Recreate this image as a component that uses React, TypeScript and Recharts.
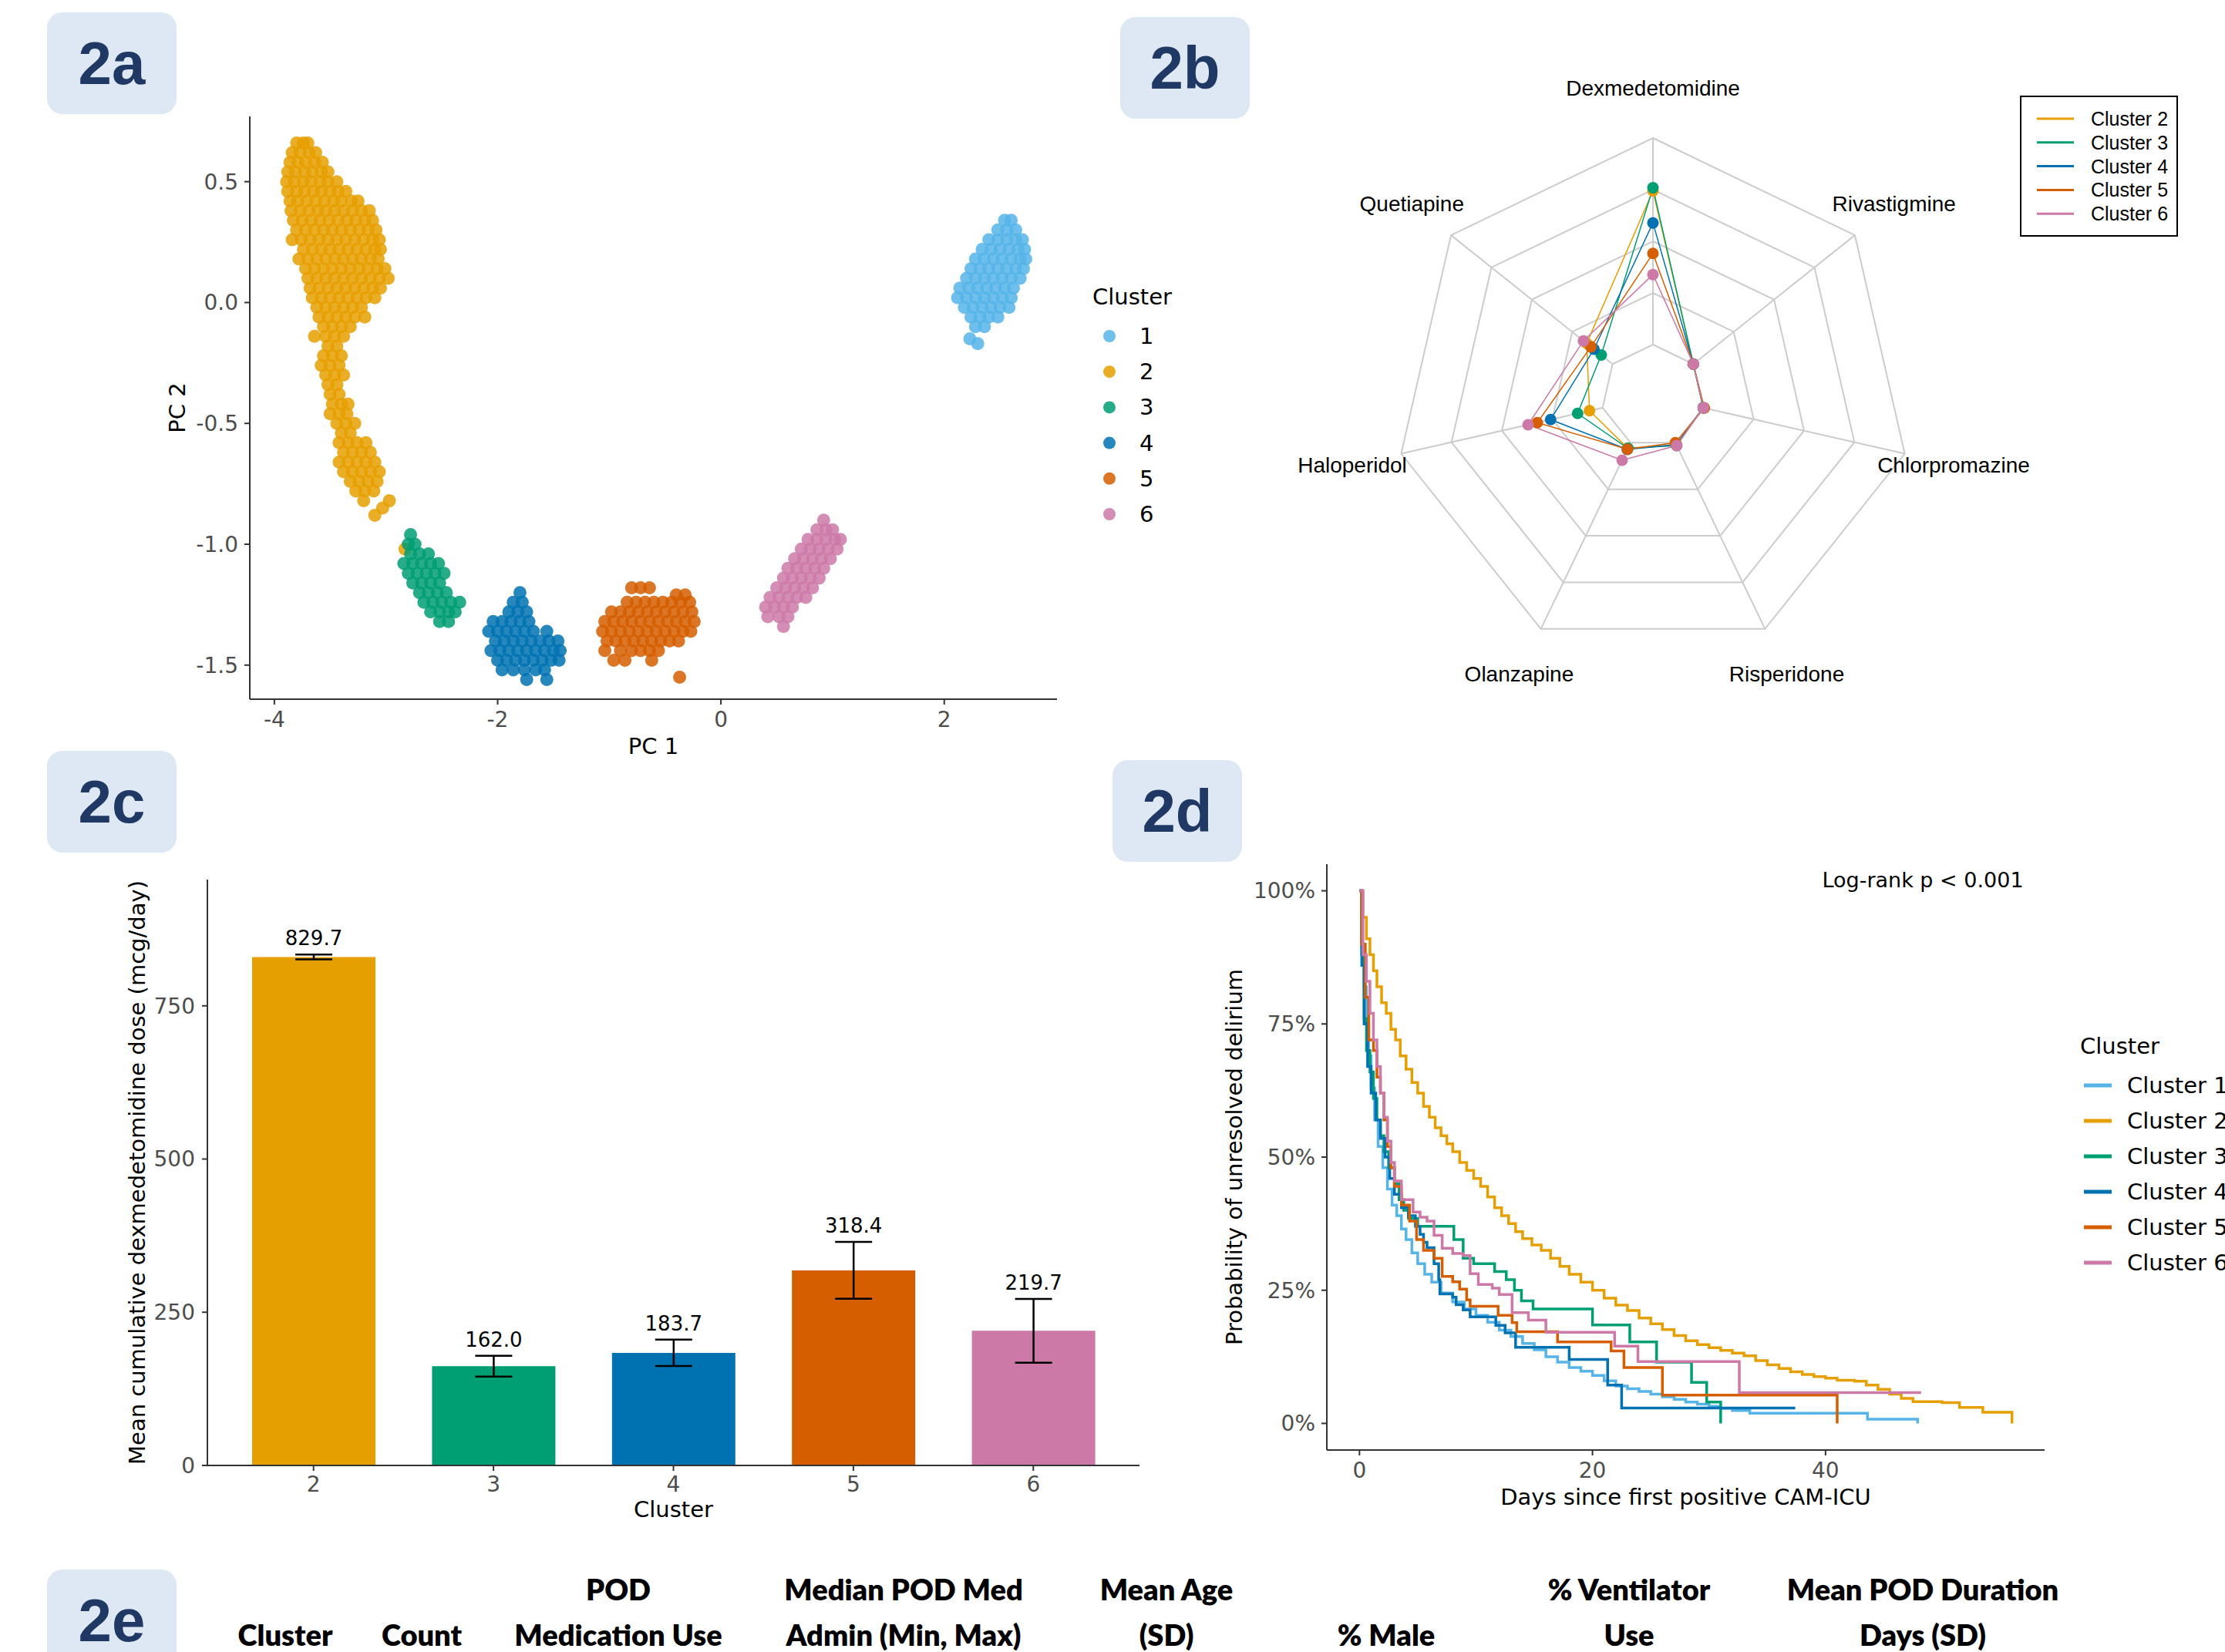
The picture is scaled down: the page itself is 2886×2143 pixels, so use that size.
import React from 'react';
import {
  ScatterChart, Scatter, XAxis, YAxis, Legend,
  RadarChart, Radar, PolarGrid, PolarAngleAxis, PolarRadiusAxis,
  BarChart, Bar, Cell, ErrorBar, LabelList,
  LineChart, Line,
} from 'recharts';

const GG = 'DejaVu Sans';
const ARIAL = 'Liberation Sans';
const TICK_COLOR = '#4D4D4D';
const AXIS_COLOR = '#333333';

// ---------- shared cluster palette ----------
const clusterNames = ['1', '2', '3', '4', '5', '6'];
const clusterColors = ['#56B4E9', '#E69F00', '#009E73', '#0072B2', '#D55E00', '#CC79A7'];

// ---------- 2a: PCA scatter (rows: [PC2, PC1 values]) ----------
const pcaCluster1Rows: [number, number[]][] = [
  [0.34, [2.54, 2.6]], [0.3, [2.48, 2.56, 2.64]], [0.26, [2.4, 2.48, 2.56, 2.64, 2.7]],
  [0.22, [2.34, 2.42, 2.5, 2.58, 2.66, 2.72]], [0.18, [2.28, 2.36, 2.44, 2.52, 2.6, 2.68, 2.73]],
  [0.14, [2.24, 2.32, 2.4, 2.48, 2.56, 2.64, 2.71]], [0.1, [2.2, 2.28, 2.36, 2.44, 2.52, 2.6, 2.68]],
  [0.06, [2.14, 2.22, 2.3, 2.38, 2.46, 2.54, 2.62]], [0.02, [2.12, 2.2, 2.28, 2.36, 2.44, 2.52, 2.6]],
  [-0.02, [2.18, 2.26, 2.34, 2.42, 2.5, 2.58]], [-0.06, [2.24, 2.32, 2.4, 2.48]],
  [-0.1, [2.28, 2.36]], [-0.15, [2.23]], [-0.17, [2.3]],
];
const pcaCluster2Rows: [number, number[]][] = [
  [0.66, [-3.8, -3.74, -3.7]], [0.62, [-3.84, -3.77, -3.69, -3.63]],
  [0.58, [-3.86, -3.79, -3.72, -3.64, -3.57]], [0.54, [-3.88, -3.81, -3.73, -3.66, -3.58, -3.52]],
  [0.5, [-3.89, -3.82, -3.74, -3.67, -3.59, -3.52, -3.44]],
  [0.46, [-3.88, -3.8, -3.73, -3.65, -3.58, -3.5, -3.43, -3.36]],
  [0.42, [-3.86, -3.79, -3.71, -3.63, -3.55, -3.47, -3.4, -3.31, -3.25]],
  [0.38, [-3.85, -3.77, -3.69, -3.61, -3.54, -3.46, -3.38, -3.3, -3.22, -3.15]],
  [0.34, [-3.83, -3.75, -3.67, -3.59, -3.51, -3.43, -3.35, -3.27, -3.19, -3.12]],
  [0.3, [-3.8, -3.72, -3.64, -3.56, -3.48, -3.4, -3.32, -3.24, -3.16, -3.09]],
  [0.26, [-3.84, -3.76, -3.68, -3.6, -3.52, -3.44, -3.36, -3.28, -3.2, -3.12, -3.06]],
  [0.22, [-3.74, -3.66, -3.58, -3.5, -3.42, -3.34, -3.26, -3.18, -3.1, -3.05]],
  [0.18, [-3.78, -3.7, -3.62, -3.54, -3.46, -3.38, -3.3, -3.22, -3.14, -3.07]],
  [0.14, [-3.72, -3.64, -3.56, -3.48, -3.4, -3.32, -3.24, -3.16, -3.08, -3.01]],
  [0.1, [-3.7, -3.62, -3.54, -3.46, -3.38, -3.3, -3.22, -3.14, -3.06, -2.98]],
  [0.06, [-3.68, -3.6, -3.52, -3.44, -3.36, -3.28, -3.2, -3.12, -3.05]],
  [0.02, [-3.66, -3.58, -3.5, -3.42, -3.34, -3.26, -3.18, -3.1]],
  [-0.02, [-3.62, -3.54, -3.46, -3.38, -3.3, -3.22]],
  [-0.06, [-3.6, -3.52, -3.44, -3.36, -3.28, -3.19]],
  [-0.1, [-3.56, -3.48, -3.4, -3.32]], [-0.14, [-3.64, -3.54, -3.46, -3.38]],
  [-0.18, [-3.52, -3.44]], [-0.22, [-3.56, -3.48, -3.4]], [-0.26, [-3.58, -3.5, -3.42]],
  [-0.3, [-3.54, -3.46, -3.38]], [-0.34, [-3.52, -3.44]], [-0.38, [-3.5, -3.42]],
  [-0.42, [-3.48, -3.4, -3.34]], [-0.46, [-3.5, -3.42, -3.35]], [-0.5, [-3.44, -3.36, -3.28]],
  [-0.54, [-3.4, -3.32]], [-0.58, [-3.42, -3.34, -3.26, -3.18]], [-0.62, [-3.38, -3.3, -3.22, -3.14]],
  [-0.66, [-3.42, -3.34, -3.26, -3.18, -3.1]], [-0.7, [-3.38, -3.3, -3.22, -3.14, -3.06]],
  [-0.74, [-3.32, -3.24, -3.16, -3.08]], [-0.78, [-3.27, -3.19, -3.11]],
  [-0.82, [-3.2, -2.97]], [-0.85, [-3.03]], [-0.88, [-3.1]], [-1.02, [-2.83]],
];
const pcaCluster3Rows: [number, number[]][] = [
  [-0.96, [-2.78]], [-1.0, [-2.8, -2.74]], [-1.04, [-2.78, -2.7, -2.62]],
  [-1.08, [-2.84, -2.76, -2.68, -2.6, -2.53]], [-1.12, [-2.8, -2.72, -2.64, -2.56, -2.48]],
  [-1.16, [-2.76, -2.68, -2.6, -2.52]], [-1.2, [-2.7, -2.62, -2.54, -2.46]],
  [-1.24, [-2.66, -2.58, -2.5, -2.42, -2.34]], [-1.28, [-2.6, -2.52, -2.44, -2.38]],
  [-1.32, [-2.52, -2.44]],
];
const pcaCluster4Rows: [number, number[]][] = [
  [-1.2, [-1.8]], [-1.24, [-1.86, -1.78]], [-1.28, [-1.9, -1.82, -1.74]],
  [-1.32, [-2.04, -1.96, -1.88, -1.8, -1.72]],
  [-1.36, [-2.08, -2.0, -1.92, -1.84, -1.76, -1.68, -1.56]],
  [-1.4, [-2.02, -1.94, -1.86, -1.78, -1.7, -1.62, -1.54, -1.46]],
  [-1.44, [-2.06, -1.98, -1.9, -1.82, -1.74, -1.66, -1.58, -1.5, -1.44]],
  [-1.48, [-2.0, -1.92, -1.84, -1.76, -1.68, -1.6, -1.52, -1.45]],
  [-1.52, [-1.96, -1.86, -1.76, -1.66, -1.58]], [-1.56, [-1.74, -1.56]],
];
const pcaCluster5Rows: [number, number[]][] = [
  [-1.18, [-0.8, -0.72, -0.64]], [-1.21, [-0.4, -0.32]],
  [-1.24, [-0.84, -0.76, -0.68, -0.6, -0.52, -0.44, -0.36, -0.28]],
  [-1.28, [-0.98, -0.9, -0.82, -0.74, -0.66, -0.58, -0.5, -0.42, -0.34, -0.26]],
  [-1.32, [-1.04, -0.96, -0.88, -0.8, -0.72, -0.64, -0.56, -0.48, -0.4, -0.32, -0.24]],
  [-1.36, [-1.06, -0.98, -0.9, -0.82, -0.74, -0.66, -0.58, -0.5, -0.42, -0.34, -0.27]],
  [-1.4, [-1.02, -0.94, -0.86, -0.78, -0.7, -0.62, -0.54, -0.46, -0.38]],
  [-1.44, [-1.04, -0.9, -0.8, -0.72, -0.64, -0.56]], [-1.48, [-0.96, -0.86, -0.62]],
  [-1.55, [-0.37]],
];
const pcaCluster6Rows: [number, number[]][] = [
  [-0.9, [0.92]], [-0.94, [0.86, 0.94, 1.0]], [-0.98, [0.78, 0.86, 0.94, 1.02, 1.07]],
  [-1.02, [0.72, 0.8, 0.88, 0.96, 1.04]], [-1.06, [0.66, 0.74, 0.82, 0.9, 0.98]],
  [-1.1, [0.6, 0.68, 0.76, 0.84, 0.92]], [-1.14, [0.56, 0.64, 0.72, 0.8, 0.88]],
  [-1.18, [0.5, 0.58, 0.66, 0.74, 0.82]], [-1.22, [0.44, 0.52, 0.6, 0.68, 0.76]],
  [-1.26, [0.4, 0.48, 0.56, 0.64]], [-1.3, [0.42, 0.52, 0.6]], [-1.34, [0.56]],
];
const pcaTicksX = [-4, -2, 0, 2];
const pcaTicksY = [-1.5, -1.0, -0.5, 0.0, 0.5];

const toPoints = (rows: [number, number[]][]) => rows.flatMap(([y, xs]) => xs.map((x) => ({ x, y })));
const pcaSeries = [pcaCluster1Rows, pcaCluster2Rows, pcaCluster3Rows, pcaCluster4Rows, pcaCluster5Rows, pcaCluster6Rows].map(toPoints);

// ---------- 2b: radar ----------
const radarAxes = ['Dexmedetomidine', 'Rivastigmine', 'Chlorpromazine', 'Risperidone', 'Olanzapine', 'Haloperidol', 'Quetiapine'];
const radarCluster2 = [0.744, 0.0, 0.0, 0.01, 0.03, 0.065, 0.16];
const radarCluster3 = [0.759, 0.0, 0.0, 0.015, 0.03, 0.124, 0.07];
const radarCluster4 = [0.589, 0.0, 0.0, 0.01, 0.036, 0.258, 0.115];
const radarCluster5 = [0.441, 0.0, 0.005, 0.0, 0.035, 0.324, 0.134];
const radarCluster6 = [0.339, 0.0, 0.0, 0.015, 0.094, 0.37, 0.18];
const radarSeriesNames = ['Cluster 2', 'Cluster 3', 'Cluster 4', 'Cluster 5', 'Cluster 6'];
const radarSeriesColors = ['#E69F00', '#009E73', '#0072B2', '#D55E00', '#CC79A7'];
const radarData = radarAxes.map((axis, i) => ({
  axis, c2: radarCluster2[i], c3: radarCluster3[i], c4: radarCluster4[i], c5: radarCluster5[i], c6: radarCluster6[i],
}));
const radarKeys = ['c2', 'c3', 'c4', 'c5', 'c6'];

// ---------- 2c: bars ----------
const barClusters = ['2', '3', '4', '5', '6'];
const barMeans = [829.7, 162.0, 183.7, 318.4, 219.7];
const barErrors = [4, 17, 21.5, 46.5, 52];
const barColors = ['#E69F00', '#009E73', '#0072B2', '#D55E00', '#CC79A7'];
const barTicks = [0, 250, 500, 750];
const barData = barClusters.map((c, i) => ({ cluster: c, mean: barMeans[i], err: barErrors[i] }));

// ---------- 2d: Kaplan-Meier ([day, survival]) ----------
const km1: [number, number][] = [
  [0, 1], [0.2, 0.9], [0.4, 0.82], [0.6, 0.75], [0.8, 0.69], [1.0, 0.63], [1.3, 0.57], [1.6, 0.52],
  [2.0, 0.48], [2.4, 0.44], [2.8, 0.41], [3.2, 0.39], [3.6, 0.365], [4.0, 0.345], [4.5, 0.32],
  [5.0, 0.3], [5.6, 0.28], [6.2, 0.265], [7.0, 0.245], [8.0, 0.228], [9.0, 0.215], [10.0, 0.203],
  [11.0, 0.19], [12.0, 0.175], [13.0, 0.163], [14.0, 0.15], [15.0, 0.138], [16.0, 0.125],
  [17.0, 0.115], [18.0, 0.105], [19.0, 0.098], [20.0, 0.09], [21.0, 0.08], [22.0, 0.07],
  [23.0, 0.065], [24.0, 0.06], [25.0, 0.055], [26.0, 0.05], [27.0, 0.045], [28.0, 0.04],
  [29.0, 0.036], [30.0, 0.032], [31.0, 0.028], [32.0, 0.024], [33.5, 0.019], [43.6, 0.008], [47.9, 0.0],
];
const km2: [number, number][] = [
  [0, 1], [0.3, 0.95], [0.6, 0.91], [0.9, 0.88], [1.2, 0.85], [1.5, 0.82], [1.9, 0.79], [2.3, 0.77],
  [2.7, 0.74], [3.1, 0.72], [3.5, 0.69], [4.0, 0.665], [4.5, 0.64], [5.0, 0.62], [5.5, 0.595],
  [6.0, 0.575], [6.5, 0.555], [7.0, 0.54], [7.5, 0.525], [8.0, 0.51], [8.6, 0.49], [9.2, 0.475],
  [9.8, 0.46], [10.4, 0.445], [11.0, 0.425], [11.6, 0.405], [12.2, 0.39], [12.8, 0.375], [13.4, 0.36],
  [14.0, 0.347], [14.8, 0.335], [15.6, 0.325], [16.4, 0.31], [17.2, 0.295], [18.0, 0.28], [19.0, 0.265],
  [20.0, 0.25], [21.0, 0.235], [22.0, 0.222], [23.0, 0.212], [24.0, 0.198], [25.0, 0.187],
  [26.0, 0.176], [27.0, 0.165], [28.0, 0.155], [29.0, 0.148], [30.0, 0.142], [31.0, 0.137],
  [32.0, 0.132], [33.0, 0.127], [34.0, 0.118], [35.0, 0.11], [36.0, 0.103], [37.0, 0.097],
  [38.0, 0.092], [39.0, 0.088], [40.0, 0.085], [41.0, 0.081], [42.5, 0.079], [43.5, 0.072],
  [44.5, 0.064], [45.5, 0.055], [46.5, 0.047], [47.5, 0.041], [50.0, 0.039], [51.5, 0.03],
  [53.5, 0.021], [56.0, 0.0],
];
const km3: [number, number][] = [
  [0, 1], [0.2, 0.88], [0.4, 0.76], [0.6, 0.7], [0.9, 0.66], [1.2, 0.61], [1.5, 0.57], [1.8, 0.54],
  [2.1, 0.51], [2.5, 0.48], [3.0, 0.45], [3.4, 0.42], [3.8, 0.4], [4.2, 0.385], [5.0, 0.37],
  [8.1, 0.345], [8.9, 0.31], [9.8, 0.3], [11.6, 0.285], [12.6, 0.27], [13.3, 0.25], [13.9, 0.23],
  [14.9, 0.215], [20.0, 0.185], [23.2, 0.153], [25.5, 0.115], [28.5, 0.077], [29.8, 0.04], [31.0, 0.0],
];
const km4: [number, number][] = [
  [0, 1], [0.2, 0.86], [0.4, 0.75], [0.7, 0.67], [1.0, 0.62], [1.4, 0.57], [1.8, 0.535], [2.2, 0.5],
  [2.6, 0.46], [3.0, 0.43], [3.6, 0.405], [4.2, 0.39], [4.8, 0.37], [5.2, 0.355], [5.5, 0.34],
  [5.8, 0.33], [6.4, 0.3], [6.8, 0.27], [6.9, 0.243], [8.0, 0.237], [8.3, 0.223], [8.9, 0.213],
  [9.5, 0.2], [11.7, 0.184], [12.5, 0.17], [13.4, 0.143], [18.0, 0.12], [21.3, 0.072], [22.5, 0.029],
  [37.4, 0.029],
];
const km5: [number, number][] = [
  [0, 1], [0.2, 0.9], [0.5, 0.8], [0.8, 0.72], [1.2, 0.7], [1.5, 0.65], [1.8, 0.62], [2.1, 0.57],
  [2.4, 0.52], [2.7, 0.48], [3.0, 0.445], [3.6, 0.41], [4.3, 0.38], [4.9, 0.345], [5.5, 0.325],
  [6.4, 0.31], [7.1, 0.276], [8.0, 0.266], [8.6, 0.252], [9.2, 0.232], [9.5, 0.22], [11.9, 0.203],
  [13.1, 0.189], [13.5, 0.172], [17.0, 0.153], [21.6, 0.136], [22.7, 0.105], [26.0, 0.053], [41.0, 0.0],
];
const km6: [number, number][] = [
  [0, 1], [0.3, 0.88], [0.6, 0.83], [0.9, 0.77], [1.2, 0.72], [1.5, 0.67], [1.8, 0.62], [2.1, 0.575],
  [2.4, 0.53], [2.7, 0.49], [3.0, 0.455], [3.6, 0.42], [4.6, 0.397], [5.2, 0.387], [5.8, 0.38],
  [6.4, 0.353], [7.1, 0.329], [8.0, 0.319], [8.9, 0.315], [9.5, 0.281], [10.2, 0.261], [11.4, 0.254],
  [12.0, 0.242], [13.1, 0.208], [14.5, 0.194], [16.0, 0.171], [21.9, 0.145], [23.9, 0.116],
  [32.6, 0.058], [48.2, 0.058],
];
const kmNames = ['Cluster 1', 'Cluster 2', 'Cluster 3', 'Cluster 4', 'Cluster 5', 'Cluster 6'];
const kmSeries = [km1, km2, km3, km4, km5, km6].map((s) => s.map(([t, p]) => ({ t, p })));
const kmTicksX = [0, 20, 40];
const kmTicksY = [0, 0.25, 0.5, 0.75, 1];

// ---------- 2e: table header ----------
const tableHeaders: [string, string, number][] = [
  ['', 'Cluster', 370], ['', 'Count', 547], ['POD', 'Medication Use', 802],
  ['Median POD Med', 'Admin (Min, Max)', 1172], ['Mean Age', '(SD)', 1513], ['', '% Male', 1798],
  ['% Ventilator', 'Use', 2113], ['Mean POD Duration', 'Days (SD)', 2494],
];

// ---------- helpers ----------
const DOT_R = 8.5;
const tickStyle = { fill: TICK_COLOR, fontSize: 28, fontFamily: GG };
const lineStyle = { stroke: AXIS_COLOR, strokeWidth: 2 };

const yTitle = (text: string, cx: number) => (props: any) => {
  const vb = props.viewBox ?? props;
  const x = cx;
  const y = vb.y + vb.height / 2;
  return (
    <text x={x} y={y} transform={`rotate(-90 ${x} ${y})`} textAnchor="middle" dominantBaseline="central"
      fontSize={29} fontFamily={GG} fill="#000">{text}</text>
  );
};
const xTitle = (text: string, dy: number) => (props: any) => {
  const vb = props.viewBox ?? props;
  return (
    <text x={vb.x + vb.width / 2} y={vb.y + dy} textAnchor="middle" dominantBaseline="central"
      fontSize={29} fontFamily={GG} fill="#000">{text}</text>
  );
};

const PanelTag = ({ label, left, top }: { label: string; left: number; top: number }) => (
  <div style={{
    position: 'absolute', left, top, width: 168, height: 132, borderRadius: 20, background: '#DEE8F4',
    display: 'flex', alignItems: 'center', justifyContent: 'center', fontFamily: ARIAL, fontWeight: 700,
    fontSize: 78, color: '#1F3864', lineHeight: 1,
  }}>{label}</div>
);

const scatterLegend = () => (
  <svg width={160} height={330}>
    <text x={12} y={25} dominantBaseline="central" fontSize={29} fontFamily={GG} fill="#000">Cluster</text>
    {clusterNames.map((n, i) => (
      <g key={n}>
        <circle cx={34} cy={76 + i * 46.2} r={8} fill={clusterColors[i]} fillOpacity={0.85} />
        <text x={73} y={76 + i * 46.2} dominantBaseline="central" fontSize={29} fontFamily={GG} fill="#000">{n}</text>
      </g>
    ))}
  </svg>
);

const radarLegend = () => (
  <svg width={206} height={184}>
    <rect x={1} y={1} width={203} height={181} fill="#fff" stroke="#000" strokeWidth={2} />
    {radarSeriesNames.map((n, i) => (
      <g key={n}>
        <line x1={22} x2={70} y1={30 + i * 30.8} y2={30 + i * 30.8} stroke={radarSeriesColors[i]} strokeWidth={3} />
        <text x={92} y={30 + i * 30.8} dominantBaseline="central" fontSize={25} fontFamily={ARIAL} fill="#000">{n}</text>
      </g>
    ))}
  </svg>
);

const kmLegend = () => (
  <svg width={220} height={330}>
    <text x={8} y={27} dominantBaseline="central" fontSize={29} fontFamily={GG} fill="#000">Cluster</text>
    {kmNames.map((n, i) => (
      <g key={n}>
        <line x1={13} x2={49} y1={78 + i * 46} y2={78 + i * 46} stroke={clusterColors[i]} strokeWidth={5} />
        <text x={69} y={78 + i * 46} dominantBaseline="central" fontSize={29} fontFamily={GG} fill="#000">{n}</text>
      </g>
    ))}
  </svg>
);

const RADAR_CX = 694;
const RADAR_CY = 514;
const RadarTick = (props: any) => {
  const { x, y, payload } = props;
  const dx = x - RADAR_CX;
  const dy = y - RADAR_CY;
  const len = Math.hypot(dx, dy) || 1;
  const tx = RADAR_CX + (dx / len) * 400;
  const ty = RADAR_CY + (dy / len) * 400;
  return (
    <text x={tx} y={ty} textAnchor="middle" dominantBaseline="central" fontSize={28} fontFamily={ARIAL} fill="#000">
      {payload.value}
    </text>
  );
};

const BarTopLabel = (props: any) => {
  const vb = props.viewBox ?? props;
  const x = vb.x ?? props.x;
  const y = vb.y ?? props.y;
  const width = vb.width ?? props.width;
  const height = Math.abs(vb.height ?? props.height);
  const value = Number(props.value);
  const i = barMeans.indexOf(value);
  const err = i >= 0 ? barErrors[i] : 0;
  const pxPerUnit = height / value;
  const top = y - err * pxPerUnit;
  return (
    <text x={x + width / 2} y={top - 12} textAnchor="middle" fontSize={26} fontFamily={GG} fill="#000">
      {value.toFixed(1)}
    </text>
  );
};

export default function App() {
  return (
    <div style={{ position: 'absolute', left: 0, top: 0, width: 2886, height: 2143, overflow: 'hidden', background: '#fff' }}>
      {/* 2a */}
      <div style={{ position: 'absolute', left: 0, top: 0 }}>
        <ScatterChart width={1420} height={1000} margin={{ top: 151, right: 49, bottom: 0, left: 0 }}>
          <XAxis type="number" dataKey="x" domain={[-4.22, 3.01]} ticks={pcaTicksX} allowDataOverflow
            height={93} tick={tickStyle} tickSize={7} tickMargin={9} tickLine={lineStyle} axisLine={lineStyle}
            label={{ content: xTitle('PC 1', 61) }} />
          <YAxis type="number" dataKey="y" domain={[-1.641, 0.77]} ticks={pcaTicksY} allowDataOverflow
            width={324} tick={tickStyle} tickSize={7} tickMargin={8} tickLine={lineStyle} axisLine={lineStyle}
            tickFormatter={(v: number) => v.toFixed(1)} label={{ content: yTitle('PC 2', 230) }} />
          {pcaSeries.map((pts, i) => (
            <Scatter key={i} name={clusterNames[i]} data={pts} fill={clusterColors[i]} isAnimationActive={false}
              shape={(p: any) => <circle cx={p.cx} cy={p.cy} r={DOT_R} fill={clusterColors[i]} fillOpacity={0.85} />} />
          ))}
          <Legend layout="vertical" align="center" verticalAlign="middle" content={scatterLegend}
            wrapperStyle={{ position: 'absolute', left: 1405, top: 360, width: 160, height: 330 }} />
        </ScatterChart>
      </div>

      {/* 2b */}
      <div style={{ position: 'absolute', left: 1450, top: 0 }}>
        <RadarChart width={1436} height={950} data={radarData} cx={RADAR_CX} cy={RADAR_CY} innerRadius={67} outerRadius={335}>
          <PolarGrid gridType="polygon" polarRadius={[67, 134, 201, 268, 335]} stroke="#CCCCCC" strokeWidth={2} />
          <PolarAngleAxis dataKey="axis" tick={RadarTick} tickLine={false} axisLine={false} />
          <PolarRadiusAxis domain={[0, 1]} tick={false} axisLine={false} />
          {radarKeys.map((k, i) => (
            <Radar key={k} name={radarSeriesNames[i]} dataKey={k} stroke={radarSeriesColors[i]} strokeWidth={1.5}
              fill="none" fillOpacity={0} isAnimationActive={false}
              dot={(p: any) => <circle key={`${k}-${p.cx}-${p.cy}`} cx={p.cx} cy={p.cy} r={7.5} fill={radarSeriesColors[i]} />} />
          ))}
          <Legend layout="vertical" align="center" verticalAlign="middle" content={radarLegend}
            wrapperStyle={{ position: 'absolute', left: 1170, top: 124, width: 206, height: 184 }} />
        </RadarChart>
      </div>

      {/* 2c */}
      <div style={{ position: 'absolute', left: 0, top: 1000 }}>
        <BarChart width={1500} height={1000} data={barData} margin={{ top: 141, right: 22, bottom: 0, left: 0 }}>
          <XAxis dataKey="cluster" padding={{ left: 21, right: 21 }} height={99} tick={tickStyle} tickSize={7}
            tickMargin={7} tickLine={lineStyle} axisLine={lineStyle} label={{ content: xTitle('Cluster', 57) }} />
          <YAxis type="number" domain={[0, 956]} ticks={barTicks} allowDataOverflow width={269} tick={tickStyle}
            tickSize={7} tickMargin={9} tickLine={lineStyle} axisLine={lineStyle}
            label={{ content: yTitle('Mean cumulative dexmedetomidine dose (mcg/day)', 178) }} />
          <Bar dataKey="mean" barSize={160} isAnimationActive={false}>
            {barData.map((d, i) => <Cell key={d.cluster} fill={barColors[i]} />)}
            <ErrorBar dataKey="err" width={24} stroke="#000" strokeWidth={2.5} direction="y" />
            <LabelList dataKey="mean" content={BarTopLabel} />
          </Bar>
        </BarChart>
      </div>

      {/* 2d */}
      <div style={{ position: 'absolute', left: 1440, top: 1000 }}>
        <LineChart width={1446} height={1000} margin={{ top: 121, right: 234, bottom: 0, left: 0 }}>
          <XAxis type="number" dataKey="t" domain={[-2.8, 58.8]} ticks={kmTicksX} allowDataOverflow height={119}
            tick={tickStyle} tickSize={7} tickMargin={9} tickLine={lineStyle} axisLine={lineStyle}
            label={{ content: xTitle('Days since first positive CAM-ICU', 61) }} />
          <YAxis type="number" domain={[-0.05, 1.05]} ticks={kmTicksY} allowDataOverflow width={281} tick={tickStyle}
            tickSize={7} tickMargin={8} tickLine={lineStyle} axisLine={lineStyle}
            tickFormatter={(v: number) => `${Math.round(v * 100)}%`}
            label={{ content: yTitle('Probability of unresolved delirium', 161) }} />
          {kmSeries.map((s, i) => (
            <Line key={i} name={kmNames[i]} data={s} dataKey="p" type="stepAfter" stroke={clusterColors[i]}
              strokeWidth={3.5} dot={false} activeDot={false} isAnimationActive={false} />
          ))}
          <Legend layout="vertical" align="center" verticalAlign="middle" content={kmLegend}
            wrapperStyle={{ position: 'absolute', left: 1250, top: 330, width: 220, height: 330 }} />
        </LineChart>
      </div>
      <div style={{ position: 'absolute', left: 2494, top: 1141, transform: 'translate(-50%, -50%)', whiteSpace: 'nowrap',
        fontFamily: GG, fontSize: 27, color: '#000' }}>Log-rank p &lt; 0.001</div>

      {/* panel tags */}
      <PanelTag label="2a" left={61} top={16} />
      <PanelTag label="2b" left={1453} top={22} />
      <PanelTag label="2c" left={61} top={974} />
      <PanelTag label="2d" left={1443} top={986} />
      <PanelTag label="2e" left={61} top={2036} />

      {/* 2e table header */}
      {tableHeaders.map(([l1, l2, x]) => (
        <React.Fragment key={l2}>
          {l1 && (
            <div style={{ position: 'absolute', left: x, top: 2061, transform: 'translate(-50%, -50%)', whiteSpace: 'nowrap',
              fontFamily: 'Lato', fontWeight: 800, fontSize: 38, color: '#000' }}>{l1}</div>
          )}
          <div style={{ position: 'absolute', left: x, top: 2120, transform: 'translate(-50%, -50%)', whiteSpace: 'nowrap',
            fontFamily: 'Lato', fontWeight: 800, fontSize: 38, color: '#000' }}>{l2}</div>
        </React.Fragment>
      ))}
    </div>
  );
}
